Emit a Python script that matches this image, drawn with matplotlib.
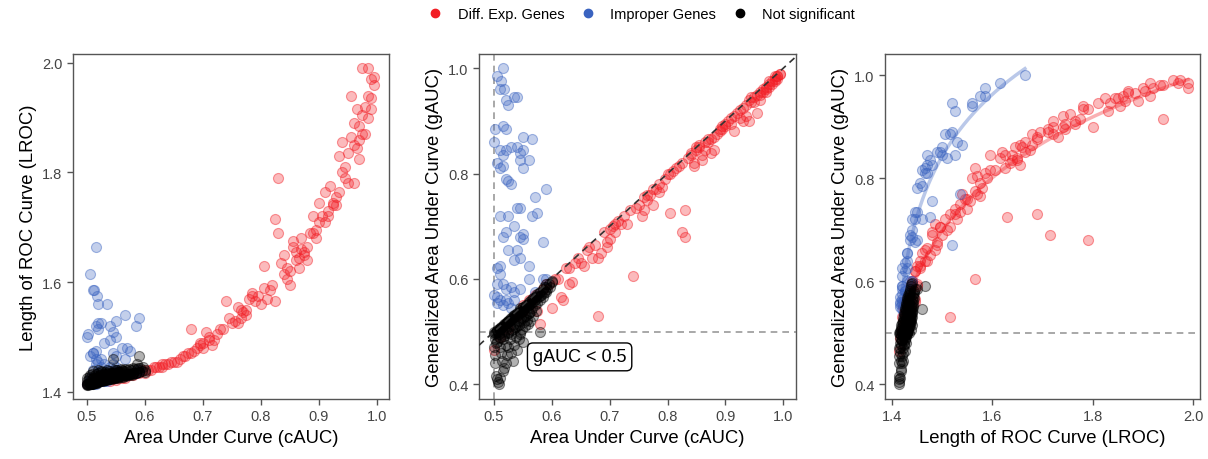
import numpy as np
import matplotlib
matplotlib.use("Agg")
import matplotlib.pyplot as plt
from matplotlib.lines import Line2D

plt.rcParams['font.family'] = ['Liberation Sans', 'DejaVu Sans']

# ---- data: one entry per gene (cAUC, LROC, gAUC) ----
# differentially expressed genes (red)
de_cauc = [0.50, 0.51, 0.525, 0.54, 0.55, 0.55, 0.56, 0.565, 0.57, 0.575,
           0.58, 0.585, 0.59, 0.595, 0.60, 0.605, 0.61, 0.615, 0.62, 0.625,
           0.63, 0.63, 0.635, 0.64, 0.645, 0.65, 0.655, 0.66, 0.665, 0.67,
           0.675, 0.68, 0.68, 0.685, 0.69, 0.695, 0.70, 0.70, 0.705, 0.71,
           0.715, 0.72, 0.725, 0.73, 0.735, 0.74, 0.745, 0.75, 0.755, 0.76,
           0.76, 0.765, 0.77, 0.775, 0.78, 0.785, 0.785, 0.79, 0.795, 0.80,
           0.805, 0.805, 0.81, 0.815, 0.82, 0.825, 0.825, 0.83, 0.83, 0.835,
           0.84, 0.84, 0.845, 0.85, 0.85, 0.855, 0.855, 0.86, 0.865, 0.865,
           0.87, 0.87, 0.875, 0.88, 0.88, 0.885, 0.89, 0.89, 0.895, 0.895,
           0.90, 0.90, 0.905, 0.91, 0.91, 0.915, 0.92, 0.925, 0.93, 0.935,
           0.935, 0.94, 0.94, 0.945, 0.95, 0.95, 0.955, 0.955, 0.96, 0.96,
           0.965, 0.965, 0.97, 0.97, 0.97, 0.975, 0.975, 0.98, 0.98, 0.985,
           0.985, 0.99, 0.99, 0.995, 0.985, 0.975, 0.995, 0.99, 0.96, 0.93,
           0.945, 0.915, 0.925, 0.875, 0.86, 0.845, 0.775, 0.765, 0.71, 0.695]
de_lroc = [1.414, 1.416, 1.420, 1.420, 1.425, 1.422, 1.425, 1.425, 1.430, 1.430,
           1.430, 1.435, 1.435, 1.440, 1.435, 1.440, 1.440, 1.445, 1.445, 1.445,
           1.445, 1.450, 1.450, 1.450, 1.455, 1.455, 1.455, 1.460, 1.465, 1.465,
           1.470, 1.470, 1.515, 1.475, 1.480, 1.485, 1.490, 1.480, 1.510, 1.495,
           1.485, 1.495, 1.505, 1.515, 1.515, 1.565, 1.535, 1.525, 1.530, 1.555,
           1.525, 1.550, 1.545, 1.540, 1.570, 1.580, 1.575, 1.565, 1.575, 1.560,
           1.590, 1.630, 1.570, 1.585, 1.595, 1.565, 1.715, 1.690, 1.790, 1.635,
           1.650, 1.615, 1.605, 1.595, 1.620, 1.665, 1.675, 1.655, 1.645, 1.625,
           1.660, 1.680, 1.655, 1.665, 1.640, 1.690, 1.690, 1.720, 1.680, 1.695,
           1.710, 1.745, 1.720, 1.765, 1.710, 1.720, 1.775, 1.740, 1.755, 1.765,
           1.830, 1.800, 1.855, 1.810, 1.835, 1.780, 1.940, 1.865, 1.850, 1.780,
           1.915, 1.845, 1.885, 1.860, 1.825, 1.905, 1.870, 1.920, 1.870, 1.940,
           1.900, 1.970, 1.935, 1.975, 1.990, 1.990, 1.960, 1.915, 1.890, 1.740,
           1.790, 1.730, 1.745, 1.650, 1.640, 1.625, 1.550, 1.535, 1.500, 1.490]
de_gauc = [0.465, 0.490, 0.505, 0.530, 0.540, 0.550, 0.560, 0.560, 0.570, 0.540,
           0.515, 0.580, 0.590, 0.590, 0.545, 0.600, 0.600, 0.565, 0.560, 0.620,
           0.620, 0.590, 0.595, 0.630, 0.640, 0.630, 0.625, 0.655, 0.660, 0.640,
           0.665, 0.640, 0.530, 0.650, 0.690, 0.660, 0.675, 0.695, 0.700, 0.705,
           0.710, 0.705, 0.720, 0.705, 0.730, 0.605, 0.735, 0.740, 0.720, 0.755,
           0.730, 0.760, 0.760, 0.770, 0.770, 0.780, 0.765, 0.775, 0.790, 0.800,
           0.800, 0.725, 0.805, 0.810, 0.815, 0.820, 0.690, 0.730, 0.680, 0.830,
           0.835, 0.840, 0.815, 0.845, 0.850, 0.850, 0.855, 0.825, 0.860, 0.845,
           0.860, 0.865, 0.865, 0.870, 0.845, 0.875, 0.880, 0.885, 0.885, 0.890,
           0.890, 0.895, 0.900, 0.905, 0.895, 0.910, 0.915, 0.920, 0.925, 0.910,
           0.930, 0.900, 0.940, 0.945, 0.945, 0.935, 0.915, 0.950, 0.955, 0.940,
           0.960, 0.955, 0.965, 0.960, 0.955, 0.970, 0.965, 0.975, 0.970, 0.980,
           0.975, 0.985, 0.980, 0.990, 0.985, 0.975, 0.990, 0.985, 0.950, 0.900,
           0.935, 0.880, 0.905, 0.840, 0.835, 0.820, 0.740, 0.750, 0.690, 0.670]

# improper genes (blue)
imp_cauc = [0.515, 0.505, 0.512, 0.51, 0.517, 0.52, 0.525, 0.535, 0.54, 0.50,
            0.502, 0.515, 0.52, 0.51, 0.515, 0.52, 0.53, 0.54, 0.545, 0.55,
            0.55, 0.565, 0.56, 0.545, 0.55, 0.505, 0.51, 0.515, 0.52, 0.525,
            0.53, 0.59, 0.57, 0.54, 0.545, 0.575, 0.565, 0.51, 0.525, 0.535,
            0.52, 0.515, 0.545, 0.55, 0.55, 0.585, 0.54, 0.525, 0.545, 0.535,
            0.56, 0.51, 0.505, 0.51, 0.56, 0.505, 0.515, 0.52, 0.53, 0.535,
            0.50, 0.505, 0.51, 0.52, 0.525, 0.505, 0.535, 0.545, 0.57, 0.585,
            0.59, 0.515, 0.53]
imp_lroc = [1.665, 1.615, 1.585, 1.585, 1.575, 1.560, 1.525, 1.560, 1.520, 1.500,
            1.505, 1.520, 1.515, 1.470, 1.475, 1.525, 1.490, 1.495, 1.510, 1.500,
            1.530, 1.540, 1.480, 1.470, 1.465, 1.465, 1.470, 1.460, 1.455, 1.460,
            1.450, 1.535, 1.480, 1.445, 1.450, 1.475, 1.460, 1.440, 1.445, 1.440,
            1.435, 1.450, 1.435, 1.440, 1.445, 1.520, 1.430, 1.430, 1.430, 1.425,
            1.430, 1.420, 1.425, 1.420, 1.430, 1.420, 1.420, 1.425, 1.420, 1.420,
            1.415, 1.420, 1.415, 1.420, 1.420, 1.415, 1.425, 1.425, 1.430, 1.435,
            1.440, 1.415, 1.420]
imp_gauc = [1.000, 0.985, 0.975, 0.960, 0.960, 0.940, 0.930, 0.945, 0.945, 0.860,
            0.885, 0.890, 0.885, 0.845, 0.835, 0.845, 0.850, 0.850, 0.840, 0.845,
            0.870, 0.865, 0.825, 0.825, 0.810, 0.820, 0.810, 0.815, 0.790, 0.785,
            0.780, 0.770, 0.755, 0.735, 0.735, 0.725, 0.720, 0.720, 0.720, 0.700,
            0.690, 0.680, 0.680, 0.685, 0.675, 0.670, 0.655, 0.655, 0.640, 0.635,
            0.625, 0.625, 0.620, 0.610, 0.600, 0.590, 0.590, 0.580, 0.585, 0.575,
            0.570, 0.565, 0.560, 0.560, 0.555, 0.555, 0.560, 0.580, 0.575, 0.600,
            0.600, 0.550, 0.545]

# not significant (black)
ns_cauc = [0.500, 0.502, 0.505, 0.507, 0.510, 0.512, 0.515, 0.518, 0.520, 0.523,
           0.525, 0.528, 0.530, 0.533, 0.535, 0.538, 0.540, 0.543, 0.545, 0.548,
           0.550, 0.553, 0.555, 0.558, 0.560, 0.563, 0.565, 0.568, 0.570, 0.573,
           0.575, 0.578, 0.580, 0.585, 0.590, 0.595, 0.600,
           0.500, 0.501, 0.502, 0.503, 0.505, 0.507, 0.509, 0.510, 0.505, 0.508,
           0.510, 0.512, 0.513, 0.515, 0.517, 0.520, 0.520, 0.522, 0.525, 0.525,
           0.528, 0.530, 0.530, 0.533, 0.535, 0.535, 0.538, 0.540, 0.540, 0.543,
           0.545, 0.545, 0.548, 0.550, 0.550, 0.553, 0.555, 0.558, 0.560, 0.563,
           0.565, 0.568, 0.570, 0.573, 0.575, 0.580, 0.580, 0.585, 0.590, 0.545,
           0.515, 0.518,
           0.590, 0.545, 0.587, 0.600, 0.535, 0.525, 0.560, 0.510, 0.520, 0.550,
           0.500, 0.503, 0.506, 0.509, 0.512, 0.516, 0.519, 0.522, 0.526, 0.529,
           0.532, 0.536, 0.539, 0.542, 0.546, 0.549, 0.552, 0.556, 0.559, 0.562,
           0.566, 0.569, 0.572, 0.576, 0.579, 0.582, 0.586, 0.589, 0.592, 0.597,
           0.501, 0.504, 0.508, 0.511, 0.514, 0.518, 0.521, 0.524, 0.527, 0.531,
           0.534, 0.537, 0.541, 0.544, 0.547, 0.551, 0.554, 0.557, 0.561, 0.564]
ns_lroc = [1.414, 1.415, 1.416, 1.415, 1.417, 1.418, 1.419, 1.418, 1.421, 1.420,
           1.422, 1.421, 1.424, 1.422, 1.425, 1.423, 1.426, 1.424, 1.427, 1.425,
           1.428, 1.426, 1.429, 1.427, 1.430, 1.428, 1.431, 1.429, 1.432, 1.430,
           1.433, 1.431, 1.434, 1.435, 1.436, 1.438, 1.440,
           1.413, 1.414, 1.413, 1.414, 1.414, 1.414, 1.414, 1.415, 1.415, 1.416,
           1.416, 1.416, 1.417, 1.417, 1.418, 1.418, 1.419, 1.419, 1.420, 1.421,
           1.420, 1.422, 1.421, 1.422, 1.423, 1.424, 1.424, 1.425, 1.424, 1.425,
           1.426, 1.427, 1.426, 1.427, 1.428, 1.428, 1.429, 1.429, 1.430, 1.430,
           1.431, 1.431, 1.432, 1.432, 1.433, 1.434, 1.433, 1.435, 1.436, 1.430,
           1.418, 1.417,
           1.465, 1.460, 1.450, 1.437, 1.440, 1.438, 1.440, 1.438, 1.440, 1.440,
           1.425, 1.428, 1.430, 1.432, 1.429, 1.433, 1.435, 1.431, 1.436, 1.433,
           1.437, 1.434, 1.438, 1.435, 1.439, 1.436, 1.440, 1.437, 1.441, 1.438,
           1.442, 1.439, 1.441, 1.440, 1.443, 1.441, 1.442, 1.444, 1.443, 1.445,
           1.420, 1.423, 1.424, 1.426, 1.425, 1.428, 1.427, 1.430, 1.429, 1.431,
           1.432, 1.431, 1.434, 1.433, 1.435, 1.434, 1.436, 1.436, 1.437, 1.438]
ns_gauc = [0.500, 0.497, 0.503, 0.500, 0.506, 0.508, 0.510, 0.514, 0.516, 0.519,
           0.521, 0.523, 0.526, 0.529, 0.531, 0.534, 0.536, 0.538, 0.541, 0.544,
           0.546, 0.548, 0.551, 0.553, 0.556, 0.558, 0.561, 0.563, 0.566, 0.568,
           0.571, 0.573, 0.576, 0.580, 0.585, 0.591, 0.596,
           0.470, 0.455, 0.440, 0.415, 0.410, 0.405, 0.400, 0.412, 0.480, 0.490,
           0.470, 0.460, 0.445, 0.485, 0.495, 0.475, 0.440, 0.455, 0.500, 0.470,
           0.485, 0.460, 0.495, 0.445, 0.505, 0.475, 0.490, 0.465, 0.510, 0.485,
           0.520, 0.495, 0.505, 0.480, 0.525, 0.510, 0.530, 0.515, 0.535, 0.520,
           0.545, 0.530, 0.550, 0.540, 0.555, 0.500, 0.560, 0.565, 0.575, 0.500,
           0.425, 0.430,
           0.590, 0.545, 0.585, 0.595, 0.530, 0.520, 0.550, 0.505, 0.515, 0.540,
           0.495, 0.500, 0.502, 0.505, 0.507, 0.511, 0.514, 0.516, 0.520, 0.522,
           0.525, 0.529, 0.531, 0.534, 0.538, 0.540, 0.543, 0.547, 0.549, 0.552,
           0.556, 0.558, 0.561, 0.565, 0.567, 0.570, 0.574, 0.577, 0.580, 0.585,
           0.485, 0.478, 0.495, 0.488, 0.500, 0.492, 0.505, 0.498, 0.510, 0.503,
           0.515, 0.508, 0.520, 0.512, 0.525, 0.518, 0.530, 0.522, 0.535, 0.540]

labels = ['Diff. Exp. Genes', 'Improper Genes', 'Not significant']
colors = ['#F21D24', '#3A63C0', '#000000']

groups = [(de_cauc, de_lroc, de_gauc), (imp_cauc, imp_lroc, imp_gauc),
          (ns_cauc, ns_lroc, ns_gauc)]

fig = plt.figure(figsize=(12.08, 4.6), dpi=100)
ax1 = fig.add_axes([0.0604, 0.1304, 0.2616, 0.75])
ax2 = fig.add_axes([0.3965, 0.1304, 0.2624, 0.75])
ax3 = fig.add_axes([0.7326, 0.1304, 0.2608, 0.75])


def dots(ax, x, y, col):
    ax.scatter(x, y, s=52, facecolor=matplotlib.colors.to_rgba(col, 0.3),
               edgecolor=matplotlib.colors.to_rgba(col, 0.45), linewidth=0.8,
               zorder=3)


# panel 1: cAUC vs LROC
for (c, l, g), col in zip(groups, colors):
    dots(ax1, c, l, col)
ax1.set_xlim(0.476, 1.021)
ax1.set_ylim(1.387, 2.016)
ax1.set_xticks([0.5, 0.6, 0.7, 0.8, 0.9, 1.0])
ax1.set_yticks([1.4, 1.6, 1.8, 2.0])
ax1.set_xlabel('Area Under Curve (cAUC)')
ax1.set_ylabel('Length of ROC Curve (LROC)')

# panel 2: cAUC vs gAUC
ax2.axvline(0.5, color='#999999', linestyle=(0, (4, 3)), linewidth=1.2, zorder=1)
ax2.axhline(0.5, color='#999999', linestyle=(0, (4, 3)), linewidth=1.2, zorder=1)
ax2.axline((0.5, 0.5), slope=1, color='#333333', linestyle=(0, (4, 3)),
           linewidth=1.2, zorder=4)
for (c, l, g), col in zip(groups, colors):
    dots(ax2, c, g, col)
ax2.text(0.648, 0.452, 'gAUC < 0.5', fontsize=13, ha='center', va='center',
         zorder=6, bbox=dict(boxstyle='round,pad=0.3,rounding_size=0.3',
                             facecolor='white', edgecolor='black', linewidth=1))
ax2.set_xlim(0.474, 1.022)
ax2.set_ylim(0.372, 1.027)
ax2.set_xticks([0.5, 0.6, 0.7, 0.8, 0.9, 1.0])
ax2.set_yticks([0.4, 0.6, 0.8, 1.0])
ax2.set_xlabel('Area Under Curve (cAUC)')
ax2.set_ylabel('Generalized Area Under Curve (gAUC)')

# panel 3: LROC vs gAUC with smooth fits (quadratic in log(LROC - 1.4))
ax3.axhline(0.5, color='#999999', linestyle=(0, (4, 3)), linewidth=1.2, zorder=1)
for (c, l, g), col in zip(groups[:2], colors[:2]):
    lx = np.log(np.array(l) - 1.40)
    coef = np.polyfit(lx, g, 2)
    xs = np.linspace(min(l), max(l), 200)
    ax3.plot(xs, np.polyval(coef, np.log(xs - 1.40)), color=col, alpha=0.35,
             linewidth=2.5, zorder=2)
for (c, l, g), col in zip(groups, colors):
    dots(ax3, l, g, col)
ax3.set_xlim(1.386, 2.014)
ax3.set_ylim(0.371, 1.041)
ax3.set_xticks([1.4, 1.6, 1.8, 2.0])
ax3.set_yticks([0.4, 0.6, 0.8, 1.0])
ax3.set_xlabel('Length of ROC Curve (LROC)')
ax3.set_ylabel('Generalized Area Under Curve (gAUC)')

for ax in (ax1, ax2, ax3):
    for sp in ax.spines.values():
        sp.set_color('#555555')
        sp.set_linewidth(1.0)
    ax.tick_params(colors='#555555', labelcolor='#444444', labelsize=10.5,
                   length=4, width=1)
    ax.xaxis.label.set_size(13.3)
    ax.yaxis.label.set_size(13.3)

handles = [Line2D([], [], marker='o', linestyle='', color=col, markersize=6)
           for col in colors]
fig.legend(handles, labels, loc='center', bbox_to_anchor=(0.531, 0.967),
           ncol=3, frameon=False, fontsize=10.5, handlelength=1.0,
           handletextpad=1.05, columnspacing=1.1)

fig.savefig('out.png', dpi=100)
